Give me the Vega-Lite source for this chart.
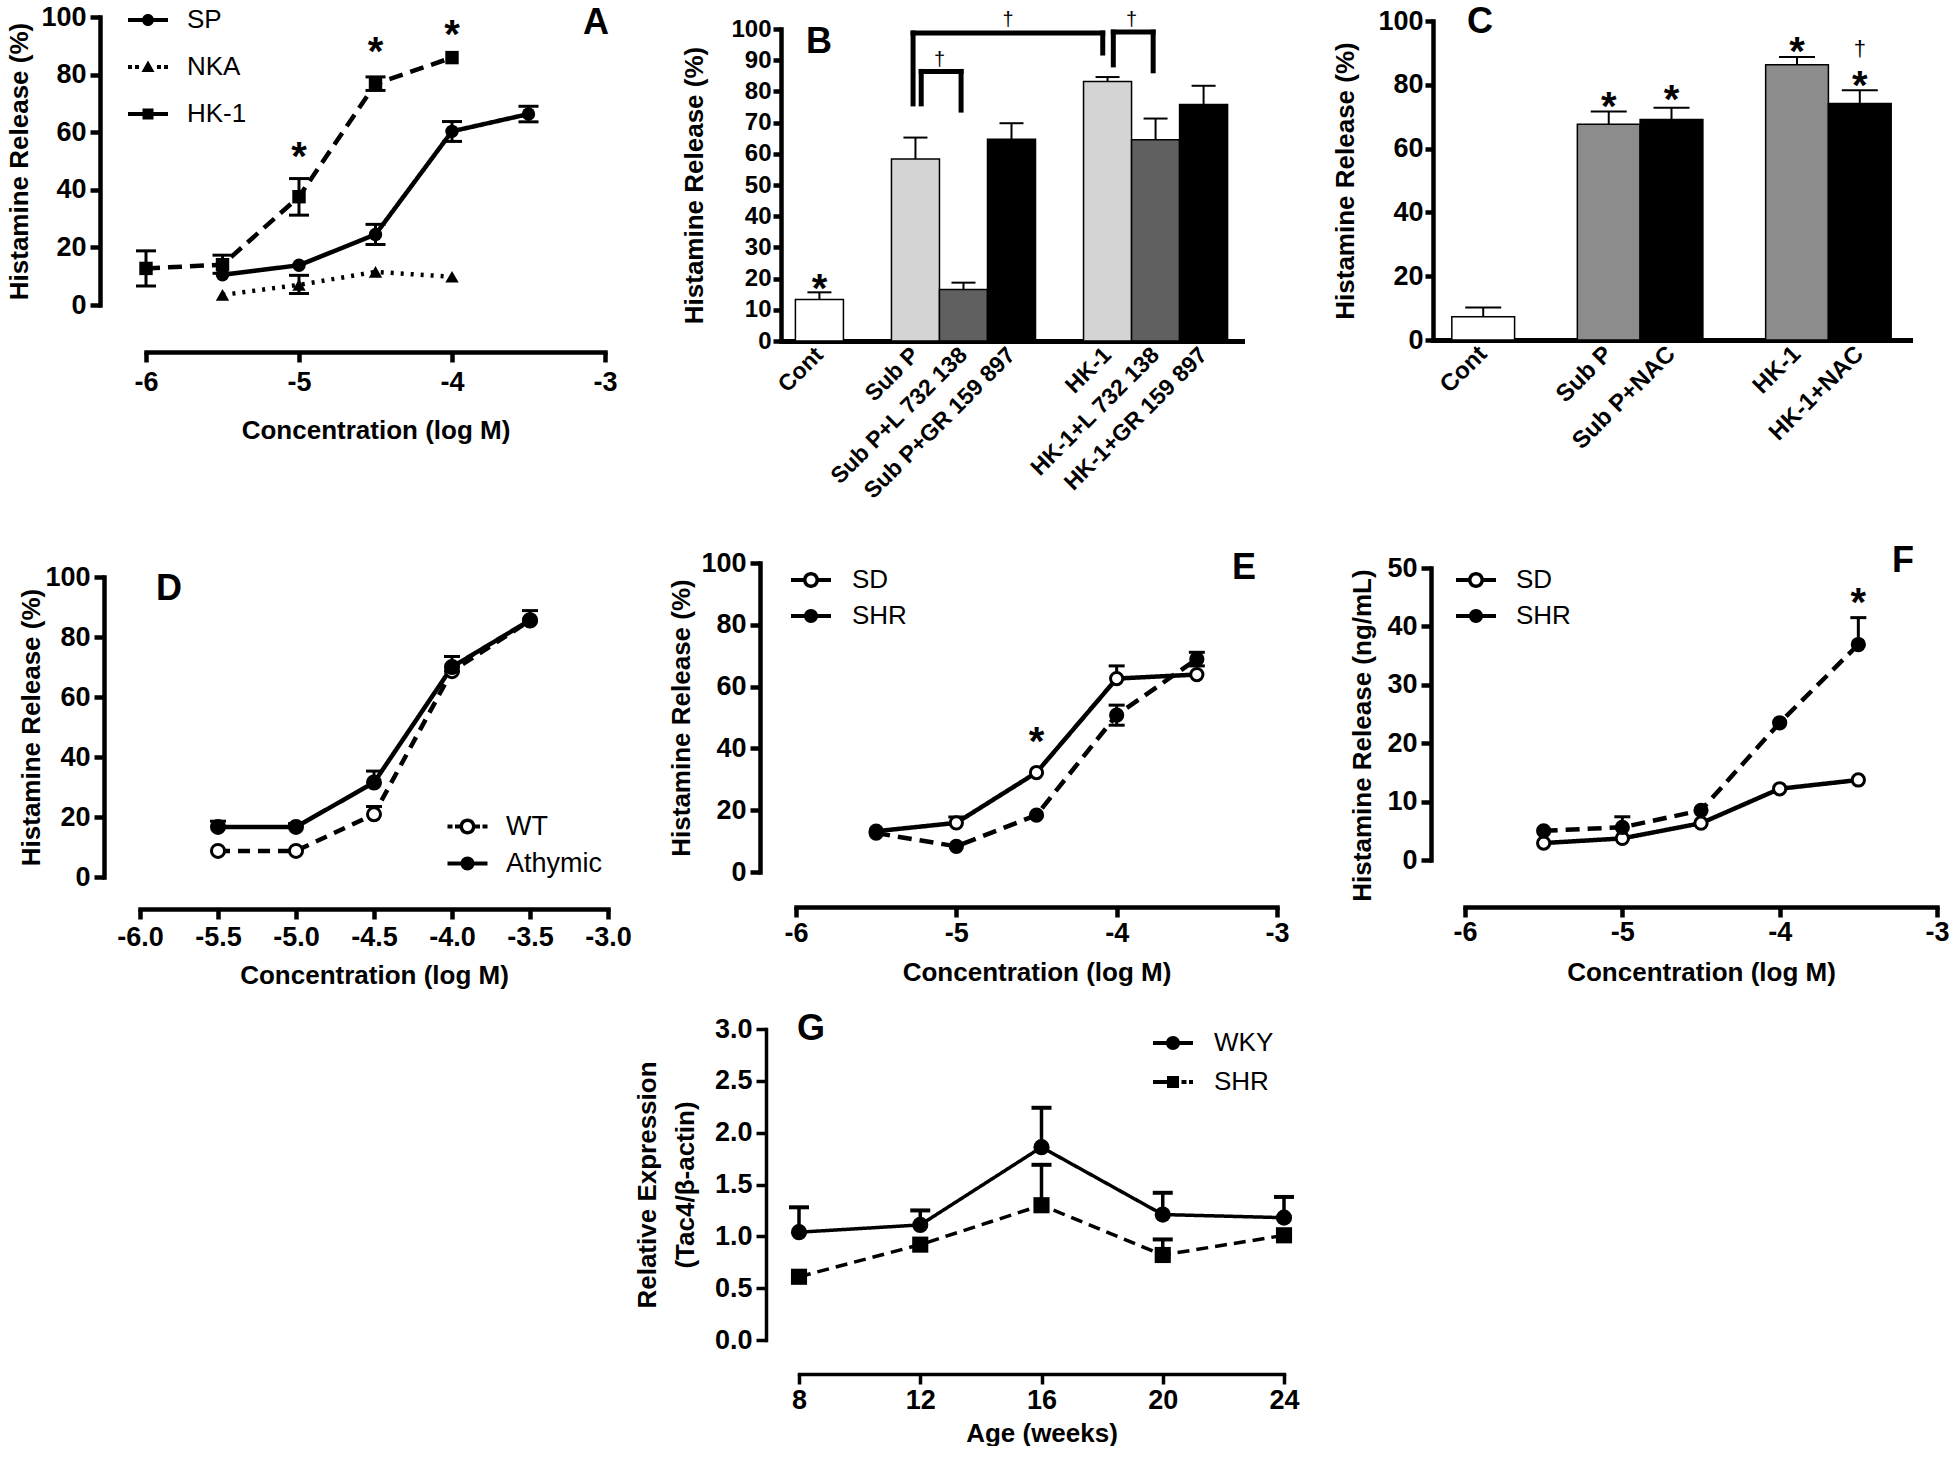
{
 "$schema": "https://vega.github.io/schema/vega-lite/v6.json",
 "background": "white",
 "padding": {"left": -31, "top": 3, "right": 0, "bottom": 0},
 "config": {
  "font": "Liberation Sans",
  "view": {"stroke": null},
  "locale": {"number": {"decimal": ".", "thousands": ",", "grouping": [3], "currency": ["$", ""], "minus": "-"}},
  "axis": {"domainColor": "black", "domainWidth": 4.5, "domainCap": "square", "tickColor": "black", "tickWidth": 4.5, "tickSize": 10, "labelColor": "black", "labelFont": "Liberation Sans", "labelFontSize": 27, "labelFontWeight": "bold", "labelPadding": 4, "labelOverlap": false, "labelFlush": false, "titleColor": "black", "titleFont": "Liberation Sans", "titleFontSize": 26, "titleFontWeight": "bold", "titleBaseline": "middle", "grid": false},
  "legend": {"labelFont": "Liberation Sans", "labelFontSize": 26, "labelColor": "black", "labelFontWeight": "normal"},
  "title": {"font": "Liberation Sans", "fontSize": 36, "fontWeight": "bold", "color": "black"}
 },
 "datasets": {
  "A": [
   {"series": "SP", "x": -5.5, "y": 10.5},
   {"series": "SP", "x": -5, "y": 13.8},
   {"series": "SP", "x": -4.5, "y": 24.5, "lo": 21, "hi": 28},
   {"series": "SP", "x": -4, "y": 60.3, "lo": 56.8, "hi": 63.7},
   {"series": "SP", "x": -3.5, "y": 66.3, "lo": 63.6, "hi": 69},
   {"series": "NKA", "x": -5.5, "y": 3.5},
   {"series": "NKA", "x": -5, "y": 7, "lo": 4, "hi": 10.3},
   {"series": "NKA", "x": -4.5, "y": 11.5},
   {"series": "NKA", "x": -4, "y": 9.8},
   {"series": "HK-1", "x": -6, "y": 12.7, "lo": 6.6, "hi": 18.8},
   {"series": "HK-1", "x": -5.5, "y": 14, "lo": 11, "hi": 17.3},
   {"series": "HK-1", "x": -5, "y": 37.6, "lo": 31.2, "hi": 43.9},
   {"series": "HK-1", "x": -4.5, "y": 76.8, "lo": 74.5, "hi": 79.2},
   {"series": "HK-1", "x": -4, "y": 85.9}
  ],
  "A_stars": [{"x": -5, "y": 55}, {"x": -4.5, "y": 91.3}, {"x": -4, "y": 97.1}],
  "B": [
   {"cat": "Cont", "type": "Control", "v": 13.3, "hi": 15.6},
   {"cat": "Sub P", "type": "Agonist", "v": 58.3, "hi": 65.2},
   {"cat": "Sub P+L 732 138", "type": "L", "v": 16.5, "hi": 18.7},
   {"cat": "Sub P+GR 159 897", "type": "GR", "v": 64.7, "hi": 69.8},
   {"cat": "HK-1", "type": "Agonist", "v": 83.2, "hi": 84.6},
   {"cat": "HK-1+L 732 138", "type": "L", "v": 64.5, "hi": 71.3},
   {"cat": "HK-1+GR 159 897", "type": "GR", "v": 75.8, "hi": 81.8}
  ],
  "B_stars": [{"cat": "Cont", "y": 20}],
  "B_outer": [{"x1": "Sub P", "x2": "HK-1", "mid": "Sub P+GR 159 897", "top": 98.7, "b1": 76, "b2": 92.3, "dag": 102.8}],
  "B_inner": [
   {"x1": "Sub P", "x2": "Sub P+L 732 138", "top": 86.4, "b1": 76, "b2": 74, "dag": 90.1},
   {"x1": "HK-1", "x2": "HK-1+L 732 138", "top": 99, "b1": 88.5, "b2": 86.6, "dag": 103}
  ],
  "C": [
   {"cat": "Cont", "type": "Control", "v": 7.3, "hi": 10.2},
   {"cat": "Sub P", "type": "Agonist", "v": 67.6, "hi": 71.6},
   {"cat": "Sub P+NAC", "type": "NAC", "v": 69.1, "hi": 72.8},
   {"cat": "HK-1", "type": "Agonist", "v": 86.3, "hi": 88.7},
   {"cat": "HK-1+NAC", "type": "NAC", "v": 74.1, "hi": 78.3}
  ],
  "C_stars": [{"cat": "Sub P", "y": 76.2}, {"cat": "Sub P+NAC", "y": 78.5}, {"cat": "HK-1", "y": 93.4}, {"cat": "HK-1+NAC", "y": 82.7}],
  "C_dag": [{"cat": "HK-1+NAC", "y": 91.3}],
  "D": [
   {"series": "WT", "x": -5.5, "y": 8.7}, {"series": "WT", "x": -5, "y": 8.7}, {"series": "WT", "x": -4.5, "y": 20.9, "hi": 23.5}, {"series": "WT", "x": -4, "y": 68.6}, {"series": "WT", "x": -3.5, "y": 85.5},
   {"series": "Athymic", "x": -5.5, "y": 16.7, "hi": 18.6}, {"series": "Athymic", "x": -5, "y": 16.7, "hi": 17.8}, {"series": "Athymic", "x": -4.5, "y": 31.5, "hi": 35.3}, {"series": "Athymic", "x": -4, "y": 70, "hi": 73.5}, {"series": "Athymic", "x": -3.5, "y": 85.6, "hi": 88.8}
  ],
  "E": [
   {"series": "SD", "x": -5.5, "y": 13.2}, {"series": "SD", "x": -5, "y": 15.9, "hi": 17.8}, {"series": "SD", "x": -4.5, "y": 32.2}, {"series": "SD", "x": -4, "y": 62.6, "hi": 66.7}, {"series": "SD", "x": -3.5, "y": 63.9},
   {"series": "SHR", "x": -5.5, "y": 12.6}, {"series": "SHR", "x": -5, "y": 8.3}, {"series": "SHR", "x": -4.5, "y": 18.4}, {"series": "SHR", "x": -4, "y": 50.8, "lo": 47.5, "hi": 54}, {"series": "SHR", "x": -3.5, "y": 68.9, "lo": 66.7, "hi": 71.1}
  ],
  "E_stars": [{"x": -4.5, "y": 45.4}],
  "F": [
   {"series": "SD", "x": -5.5, "y": 2.9}, {"series": "SD", "x": -5, "y": 3.7}, {"series": "SD", "x": -4.5, "y": 6.3}, {"series": "SD", "x": -4, "y": 12.2}, {"series": "SD", "x": -3.5, "y": 13.7},
   {"series": "SHR", "x": -5.5, "y": 5}, {"series": "SHR", "x": -5, "y": 5.6, "hi": 7.4}, {"series": "SHR", "x": -4.5, "y": 8.5}, {"series": "SHR", "x": -4, "y": 23.5}, {"series": "SHR", "x": -3.5, "y": 36.9, "hi": 41.5}
  ],
  "F_stars": [{"x": -3.5, "y": 45.7}],
  "G": [
   {"series": "WKY", "x": 8, "y": 1.04, "hi": 1.28}, {"series": "WKY", "x": 12, "y": 1.11, "hi": 1.25}, {"series": "WKY", "x": 16, "y": 1.86, "hi": 2.24}, {"series": "WKY", "x": 20, "y": 1.21, "hi": 1.42}, {"series": "WKY", "x": 24, "y": 1.18, "hi": 1.38},
   {"series": "SHR", "x": 8, "y": 0.61}, {"series": "SHR", "x": 12, "y": 0.92}, {"series": "SHR", "x": 16, "y": 1.3, "hi": 1.69}, {"series": "SHR", "x": 20, "y": 0.82, "hi": 0.97}, {"series": "SHR", "x": 24, "y": 1.01}
  ],
  "blank": [{"k": 0}]
 },
 "columns": 4,
 "spacing": {"row": 152, "column": 176},
 "align": "each",
 "bounds": "flush",
 "resolve": {
  "scale": {"x": "independent", "y": "independent", "shape": "independent", "fill": "independent", "strokeDash": "independent"},
  "axis": {"x": "independent", "y": "independent"},
  "legend": {"shape": "independent"}
 },
 "concat": [
  {"width": 1, "height": 394, "data": {"name": "blank"}, "mark": {"type": "text", "text": ""}},
  {
   "width": 459, "height": 284,
   "title": {"text": "A", "anchor": "end", "frame": "group", "offset": -67, "dx": 4, "baseline": "alphabetic"},
   "data": {"name": "A"},
   "layer": [
    {"mark": {"type": "line", "strokeWidth": 4.5, "color": "black"},
     "encoding": {
      "x": {"field": "x", "type": "quantitative", "scale": {"domain": [-6, -3], "nice": false, "zero": false}, "axis": {"values": [-6, -5, -4, -3], "format": "d", "labelOverlap": false, "offset": 47, "title": "Concentration (log M)", "titleY": 78, "labelPadding": 7}},
      "y": {"field": "y", "type": "quantitative", "scale": {"domain": [0, 100], "nice": false, "range": [284, -4]}, "axis": {"values": [0, 20, 40, 60, 80, 100], "format": "d", "labelOverlap": false, "offset": 46, "title": "Histamine Release (%)", "titleX": -81}},
      "strokeDash": {"field": "series", "type": "nominal", "scale": {"domain": ["SP", "NKA", "HK-1"], "range": [[1, 0], [3, 7], [14, 8]]}, "legend": null}}},
    {"transform": [{"filter": "isValid(datum.hi)"}], "mark": {"type": "rule", "strokeWidth": 3, "color": "black"},
     "encoding": {"x": {"field": "x", "type": "quantitative"}, "y": {"field": "y", "type": "quantitative"}, "y2": {"field": "hi"}}},
    {"transform": [{"filter": "isValid(datum.hi)"}], "mark": {"type": "tick", "orient": "horizontal", "size": 20, "thickness": 3, "color": "black", "opacity": 1},
     "encoding": {"x": {"field": "x", "type": "quantitative"}, "y": {"field": "hi", "type": "quantitative"}}},
    {"transform": [{"filter": "isValid(datum.lo)"}], "mark": {"type": "rule", "strokeWidth": 3, "color": "black"},
     "encoding": {"x": {"field": "x", "type": "quantitative"}, "y": {"field": "lo", "type": "quantitative"}, "y2": {"field": "y"}}},
    {"transform": [{"filter": "isValid(datum.lo)"}], "mark": {"type": "tick", "orient": "horizontal", "size": 20, "thickness": 3, "color": "black", "opacity": 1},
     "encoding": {"x": {"field": "x", "type": "quantitative"}, "y": {"field": "lo", "type": "quantitative"}}},
    {"mark": {"type": "point", "filled": true, "size": 180, "color": "black", "opacity": 1},
     "encoding": {"x": {"field": "x", "type": "quantitative"}, "y": {"field": "y", "type": "quantitative"},
      "shape": {"field": "series", "type": "nominal", "scale": {"domain": ["SP", "NKA", "HK-1"], "range": ["circle", "triangle-up", "square"]}, "legend": null}}},
    {"data": {"name": "A_stars"}, "mark": {"type": "text", "text": "*", "fontSize": 40, "fontWeight": "bold", "baseline": "alphabetic", "dy": 23, "color": "black"},
     "encoding": {"x": {"field": "x", "type": "quantitative"}, "y": {"field": "y", "type": "quantitative"}}},
    {"transform": [{"filter": "false"}], "mark": {"type": "point", "filled": true, "color": "black", "strokeWidth": 0, "opacity": 1},
     "encoding": {"x": {"field": "x", "type": "quantitative"}, "y": {"field": "y", "type": "quantitative"},
      "shape": {"field": "series", "type": "nominal", "scale": {"domain": ["SP", "NKA", "HK-1"], "range": [
        "M-2,-0.2H2V0.2H-2Z M0.6,0A0.6,0.6,0,1,1,-0.6,0A0.6,0.6,0,1,1,0.6,0Z",
        "M-2,-0.2H-1.6V0.2H-2Z M-1.3,-0.2H-0.9V0.2H-1.3Z M0.9,-0.2H1.3V0.2H0.9Z M1.6,-0.2H2V0.2H1.6Z M0,-0.65L0.65,0.5H-0.65Z",
        "M-2,-0.2H2V0.2H-2Z M-0.55,-0.55H0.55V0.55H-0.55Z"]},
       "legend": {"title": null, "orient": "none", "legendX": -11, "legendY": -14, "symbolSize": 400, "symbolStrokeWidth": 0, "symbolFillColor": "black", "symbolOpacity": 1, "rowPadding": 21, "labelOffset": 26, "padding": 0}}}}
   ],
   "resolve": {"scale": {"shape": "independent"}}
  },
  {
   "width": 452, "height": 320,
   "title": {"text": "B", "anchor": "start", "frame": "group", "offset": -79, "dx": 16, "baseline": "alphabetic"},
   "layer": [
    {"data": {"name": "B"}, "mark": {"type": "bar", "stroke": "black", "strokeWidth": 1.5, "opacity": 1},
     "encoding": {
      "x": {"field": "cat", "type": "nominal", "scale": {"domain": ["Cont", " ", "Sub P", "Sub P+L 732 138", "Sub P+GR 159 897", "  ", "HK-1", "HK-1+L 732 138", "HK-1+GR 159 897"], "paddingInner": 0, "paddingOuter": 0.3, "range": [-9, 452]},
       "axis": {"title": null, "labelAngle": -45, "labelAlign": "right", "labelBaseline": "middle", "ticks": false, "labelPadding": 10, "labelFontSize": 23, "labelLimit": 400, "labelOverlap": false, "domainWidth": 5}},
      "y": {"field": "v", "type": "quantitative", "scale": {"domain": [0, 100], "nice": false, "range": [320, 8]},
       "axis": {"values": [0, 10, 20, 30, 40, 50, 60, 70, 80, 90, 100], "tickCount": 11, "format": "d", "labelOverlap": false, "labelFontSize": 24, "offset": 9, "title": "Histamine Release (%)", "titleX": -87, "tickSize": 8, "labelPadding": 2}},
      "fill": {"field": "type", "type": "nominal", "scale": {"domain": ["Control", "Agonist", "L", "GR"], "range": ["white", "#d4d4d4", "#606060", "black"]}, "legend": null}}},
    {"data": {"name": "B"}, "mark": {"type": "rule", "strokeWidth": 2, "color": "black"},
     "encoding": {"x": {"field": "cat", "type": "nominal"}, "y": {"field": "v", "type": "quantitative"}, "y2": {"field": "hi"}}},
    {"data": {"name": "B"}, "mark": {"type": "tick", "orient": "horizontal", "size": 24, "thickness": 2, "color": "black", "opacity": 1},
     "encoding": {"x": {"field": "cat", "type": "nominal"}, "y": {"field": "hi", "type": "quantitative"}}},
    {"data": {"name": "B_stars"}, "mark": {"type": "text", "text": "*", "fontSize": 40, "fontWeight": "bold", "baseline": "alphabetic", "dy": 23, "color": "black"},
     "encoding": {"x": {"field": "cat", "type": "nominal"}, "y": {"field": "y", "type": "quantitative"}}},
    {"data": {"name": "B_outer"}, "mark": {"type": "rule", "strokeWidth": 5, "strokeCap": "square", "color": "black"},
     "encoding": {"x": {"field": "x1", "type": "nominal", "bandPosition": 0.45}, "y": {"field": "b1", "type": "quantitative"}, "y2": {"field": "top"}}},
    {"data": {"name": "B_outer"}, "mark": {"type": "rule", "strokeWidth": 5, "strokeCap": "square", "color": "black"},
     "encoding": {"x": {"field": "x1", "type": "nominal", "bandPosition": 0.45}, "x2": {"field": "x2", "bandPosition": 0.4}, "y": {"field": "top", "type": "quantitative"}}},
    {"data": {"name": "B_outer"}, "mark": {"type": "rule", "strokeWidth": 5, "strokeCap": "square", "color": "black"},
     "encoding": {"x": {"field": "x2", "type": "nominal", "bandPosition": 0.4}, "y": {"field": "b2", "type": "quantitative"}, "y2": {"field": "top"}}},
    {"data": {"name": "B_outer"}, "mark": {"type": "text", "text": "†", "fontSize": 20, "baseline": "middle", "color": "black"},
     "encoding": {"x": {"field": "mid", "type": "nominal", "bandPosition": 0.43}, "y": {"field": "dag", "type": "quantitative"}}},
    {"data": {"name": "B_inner"}, "mark": {"type": "rule", "strokeWidth": 5, "strokeCap": "square", "color": "black"},
     "encoding": {"x": {"field": "x1", "type": "nominal", "bandPosition": 0.62}, "y": {"field": "b1", "type": "quantitative"}, "y2": {"field": "top"}}},
    {"data": {"name": "B_inner"}, "mark": {"type": "rule", "strokeWidth": 5, "strokeCap": "square", "color": "black"},
     "encoding": {"x": {"field": "x1", "type": "nominal", "bandPosition": 0.62}, "x2": {"field": "x2", "bandPosition": 0.45}, "y": {"field": "top", "type": "quantitative"}}},
    {"data": {"name": "B_inner"}, "mark": {"type": "rule", "strokeWidth": 5, "strokeCap": "square", "color": "black"},
     "encoding": {"x": {"field": "x2", "type": "nominal", "bandPosition": 0.45}, "y": {"field": "b2", "type": "quantitative"}, "y2": {"field": "top"}}},
    {"data": {"name": "B_inner"}, "mark": {"type": "text", "text": "†", "fontSize": 20, "baseline": "middle", "color": "black"},
     "encoding": {"x": {"field": "x1", "type": "nominal", "bandPosition": 1}, "y": {"field": "dag", "type": "quantitative"}}}
   ]
  },
  {
   "width": 461, "height": 319,
   "title": {"text": "C", "anchor": "start", "frame": "group", "offset": -62, "dx": 18, "baseline": "alphabetic"},
   "layer": [
    {"data": {"name": "C"}, "mark": {"type": "bar", "stroke": "black", "strokeWidth": 1.5, "opacity": 1},
     "encoding": {
      "x": {"field": "cat", "type": "nominal", "scale": {"domain": ["Cont", " ", "Sub P", "Sub P+NAC", "  ", "HK-1", "HK-1+NAC"], "paddingInner": 0, "paddingOuter": 0.3, "range": [-16, 461]},
       "axis": {"title": null, "labelAngle": -45, "labelAlign": "right", "labelBaseline": "middle", "ticks": false, "labelPadding": 10, "labelFontSize": 24, "labelLimit": 400, "labelOverlap": false, "domainWidth": 5}},
      "y": {"field": "v", "type": "quantitative", "scale": {"domain": [0, 100], "nice": false},
       "axis": {"values": [0, 20, 40, 60, 80, 100], "format": "d", "labelOverlap": false, "offset": 16, "title": "Histamine Release (%)", "titleX": -88, "tickSize": 8, "labelPadding": 2}},
      "fill": {"field": "type", "type": "nominal", "scale": {"domain": ["Control", "Agonist", "NAC"], "range": ["white", "#8c8c8c", "black"]}, "legend": null}}},
    {"data": {"name": "C"}, "mark": {"type": "rule", "strokeWidth": 2, "color": "black"},
     "encoding": {"x": {"field": "cat", "type": "nominal"}, "y": {"field": "v", "type": "quantitative"}, "y2": {"field": "hi"}}},
    {"data": {"name": "C"}, "mark": {"type": "tick", "orient": "horizontal", "size": 36, "thickness": 2, "color": "black", "opacity": 1},
     "encoding": {"x": {"field": "cat", "type": "nominal"}, "y": {"field": "hi", "type": "quantitative"}}},
    {"data": {"name": "C_stars"}, "mark": {"type": "text", "text": "*", "fontSize": 40, "fontWeight": "bold", "baseline": "alphabetic", "dy": 23, "color": "black"},
     "encoding": {"x": {"field": "cat", "type": "nominal"}, "y": {"field": "y", "type": "quantitative"}}},
    {"data": {"name": "C_dag"}, "mark": {"type": "text", "text": "†", "fontSize": 22, "baseline": "middle", "color": "black"},
     "encoding": {"x": {"field": "cat", "type": "nominal"}, "y": {"field": "y", "type": "quantitative"}}}
   ]
  },
  {"width": 1, "height": 306, "data": {"name": "blank"}, "mark": {"type": "text", "text": ""}},
  {
   "width": 468, "height": 310,
   "title": {"text": "D", "anchor": "start", "frame": "group", "offset": -73, "dx": 10, "baseline": "alphabetic"},
   "data": {"name": "D"},
   "layer": [
    {"mark": {"type": "line", "strokeWidth": 4.5, "color": "black"},
     "encoding": {
      "x": {"field": "x", "type": "quantitative", "scale": {"domain": [-6, -3], "nice": false, "zero": false, "range": [-6, 462]}, "axis": {"values": [-6, -5.5, -5, -4.5, -4, -3.5, -3], "format": ".1f", "labelOverlap": false, "offset": 32, "title": "Concentration (log M)", "titleY": 66, "labelPadding": 5}},
      "y": {"field": "y", "type": "quantitative", "scale": {"domain": [0, 100], "nice": false, "range": [310, 10]}, "axis": {"values": [0, 20, 40, 60, 80, 100], "format": "d", "labelOverlap": false, "offset": 42, "title": "Histamine Release (%)", "titleX": -73}},
      "strokeDash": {"field": "series", "type": "nominal", "scale": {"domain": ["WT", "Athymic"], "range": [[12, 8], [1, 0]]}, "legend": null}}},
    {"transform": [{"filter": "isValid(datum.hi)"}], "mark": {"type": "rule", "strokeWidth": 3, "color": "black"},
     "encoding": {"x": {"field": "x", "type": "quantitative"}, "y": {"field": "y", "type": "quantitative"}, "y2": {"field": "hi"}}},
    {"transform": [{"filter": "isValid(datum.hi)"}], "mark": {"type": "tick", "orient": "horizontal", "size": 16, "thickness": 3, "color": "black", "opacity": 1},
     "encoding": {"x": {"field": "x", "type": "quantitative"}, "y": {"field": "hi", "type": "quantitative"}}},
    {"mark": {"type": "point", "filled": true, "size": 170, "stroke": "black", "strokeWidth": 3, "opacity": 1},
     "encoding": {"x": {"field": "x", "type": "quantitative"}, "y": {"field": "y", "type": "quantitative"},
      "shape": {"value": "circle"},
      "fill": {"field": "series", "type": "nominal", "scale": {"domain": ["WT", "Athymic"], "range": ["white", "black"]}, "legend": null}}},
    {"transform": [{"filter": "false"}], "mark": {"type": "point", "filled": true, "color": "black", "strokeWidth": 0, "opacity": 1},
     "encoding": {"x": {"field": "x", "type": "quantitative"}, "y": {"field": "y", "type": "quantitative"},
      "shape": {"field": "series", "type": "nominal", "scale": {"domain": ["WT", "Athymic"], "range": [
        "M-2,-0.2H-1.5V0.2H-2Z M-1.25,-0.2H-0.75V0.2H-1.25Z M0.75,-0.2H1.25V0.2H0.75Z M1.5,-0.2H2V0.2H1.5Z M0.8,0A0.8,0.8,0,1,1,-0.8,0A0.8,0.8,0,1,1,0.8,0Z M0.45,0A0.45,0.45,0,1,0,-0.45,0A0.45,0.45,0,1,0,0.45,0Z",
        "M-2,-0.2H2V0.2H-2Z M0.7,0A0.7,0.7,0,1,1,-0.7,0A0.7,0.7,0,1,1,0.7,0Z"]},
       "legend": {"title": null, "orient": "none", "legendX": 308, "legendY": 246, "symbolSize": 400, "symbolStrokeWidth": 0, "symbolFillColor": "black", "symbolOpacity": 1, "rowPadding": 9, "labelOffset": 25, "padding": 0, "labelFontSize": 27}}}}
   ],
   "resolve": {"scale": {"shape": "independent"}}
  },
  {
   "width": 483, "height": 305,
   "title": {"text": "E", "anchor": "end", "frame": "group", "offset": -66, "dx": -17, "baseline": "alphabetic"},
   "data": {"name": "E"},
   "layer": [
    {"mark": {"type": "line", "strokeWidth": 4.5, "color": "black"},
     "encoding": {
      "x": {"field": "x", "type": "quantitative", "scale": {"domain": [-6, -3], "nice": false, "zero": false, "range": [6, 487]}, "axis": {"values": [-6, -5, -4, -3], "format": "d", "labelOverlap": false, "offset": 35, "title": "Concentration (log M)", "titleY": 65, "labelPadding": 3}},
      "y": {"field": "y", "type": "quantitative", "scale": {"domain": [0, 100], "nice": false, "range": [305, -4]}, "axis": {"values": [0, 20, 40, 60, 80, 100], "format": "d", "labelOverlap": false, "offset": 30, "title": "Histamine Release (%)", "titleX": -79}},
      "strokeDash": {"field": "series", "type": "nominal", "scale": {"domain": ["SD", "SHR"], "range": [[1, 0], [14, 8]]}, "legend": null}}},
    {"transform": [{"filter": "isValid(datum.hi)"}], "mark": {"type": "rule", "strokeWidth": 3, "color": "black"},
     "encoding": {"x": {"field": "x", "type": "quantitative"}, "y": {"field": "y", "type": "quantitative"}, "y2": {"field": "hi"}}},
    {"transform": [{"filter": "isValid(datum.hi)"}], "mark": {"type": "tick", "orient": "horizontal", "size": 16, "thickness": 3, "color": "black", "opacity": 1},
     "encoding": {"x": {"field": "x", "type": "quantitative"}, "y": {"field": "hi", "type": "quantitative"}}},
    {"transform": [{"filter": "isValid(datum.lo)"}], "mark": {"type": "rule", "strokeWidth": 3, "color": "black"},
     "encoding": {"x": {"field": "x", "type": "quantitative"}, "y": {"field": "lo", "type": "quantitative"}, "y2": {"field": "y"}}},
    {"transform": [{"filter": "isValid(datum.lo)"}], "mark": {"type": "tick", "orient": "horizontal", "size": 16, "thickness": 3, "color": "black", "opacity": 1},
     "encoding": {"x": {"field": "x", "type": "quantitative"}, "y": {"field": "lo", "type": "quantitative"}}},
    {"mark": {"type": "point", "filled": true, "size": 150, "stroke": "black", "strokeWidth": 3, "opacity": 1},
     "encoding": {"x": {"field": "x", "type": "quantitative"}, "y": {"field": "y", "type": "quantitative"},
      "shape": {"value": "circle"},
      "fill": {"field": "series", "type": "nominal", "scale": {"domain": ["SD", "SHR"], "range": ["white", "black"]}, "legend": null}}},
    {"data": {"name": "E_stars"}, "mark": {"type": "text", "text": "*", "fontSize": 40, "fontWeight": "bold", "baseline": "alphabetic", "dy": 23, "color": "black"},
     "encoding": {"x": {"field": "x", "type": "quantitative"}, "y": {"field": "y", "type": "quantitative"}}},
    {"transform": [{"filter": "false"}], "mark": {"type": "point", "filled": true, "color": "black", "strokeWidth": 0, "opacity": 1},
     "encoding": {"x": {"field": "x", "type": "quantitative"}, "y": {"field": "y", "type": "quantitative"},
      "shape": {"field": "series", "type": "nominal", "scale": {"domain": ["SD", "SHR"], "range": [
        "M-2,-0.2H-0.75V0.2H-2Z M0.75,-0.2H2V0.2H0.75Z M0.8,0A0.8,0.8,0,1,1,-0.8,0A0.8,0.8,0,1,1,0.8,0Z M0.45,0A0.45,0.45,0,1,0,-0.45,0A0.45,0.45,0,1,0,0.45,0Z",
        "M-2,-0.2H2V0.2H-2Z M0.7,0A0.7,0.7,0,1,1,-0.7,0A0.7,0.7,0,1,1,0.7,0Z"]},
       "legend": {"title": null, "orient": "none", "legendX": 8, "legendY": 0, "symbolSize": 400, "symbolStrokeWidth": 0, "symbolFillColor": "black", "symbolOpacity": 1, "rowPadding": 10, "labelOffset": 28, "padding": 0}}}}
   ],
   "resolve": {"scale": {"shape": "independent"}}
  },
  {
   "width": 488, "height": 293,
   "title": {"text": "F", "anchor": "end", "frame": "group", "offset": -54, "dx": -23, "baseline": "alphabetic"},
   "data": {"name": "F"},
   "layer": [
    {"mark": {"type": "line", "strokeWidth": 4.5, "color": "black"},
     "encoding": {
      "x": {"field": "x", "type": "quantitative", "scale": {"domain": [-6, -3], "nice": false, "zero": false, "range": [16, 488]}, "axis": {"values": [-6, -5, -4, -3], "format": "d", "labelOverlap": false, "offset": 47, "title": "Concentration (log M)", "titleY": 65, "labelPadding": 2}},
      "y": {"field": "y", "type": "quantitative", "scale": {"domain": [0, 50], "nice": false, "range": [293, 1]}, "axis": {"values": [0, 10, 20, 30, 40, 50], "format": "d", "labelOverlap": false, "offset": 18, "title": "Histamine Release (ng/mL)", "titleX": -69, "titleY": 168}},
      "strokeDash": {"field": "series", "type": "nominal", "scale": {"domain": ["SD", "SHR"], "range": [[1, 0], [14, 8]]}, "legend": null}}},
    {"transform": [{"filter": "isValid(datum.hi)"}], "mark": {"type": "rule", "strokeWidth": 3, "color": "black"},
     "encoding": {"x": {"field": "x", "type": "quantitative"}, "y": {"field": "y", "type": "quantitative"}, "y2": {"field": "hi"}}},
    {"transform": [{"filter": "isValid(datum.hi)"}], "mark": {"type": "tick", "orient": "horizontal", "size": 16, "thickness": 3, "color": "black", "opacity": 1},
     "encoding": {"x": {"field": "x", "type": "quantitative"}, "y": {"field": "hi", "type": "quantitative"}}},
    {"mark": {"type": "point", "filled": true, "size": 150, "stroke": "black", "strokeWidth": 3, "opacity": 1},
     "encoding": {"x": {"field": "x", "type": "quantitative"}, "y": {"field": "y", "type": "quantitative"},
      "shape": {"value": "circle"},
      "fill": {"field": "series", "type": "nominal", "scale": {"domain": ["SD", "SHR"], "range": ["white", "black"]}, "legend": null}}},
    {"data": {"name": "F_stars"}, "mark": {"type": "text", "text": "*", "fontSize": 40, "fontWeight": "bold", "baseline": "alphabetic", "dy": 23, "color": "black"},
     "encoding": {"x": {"field": "x", "type": "quantitative"}, "y": {"field": "y", "type": "quantitative"}}},
    {"transform": [{"filter": "false"}], "mark": {"type": "point", "filled": true, "color": "black", "strokeWidth": 0, "opacity": 1},
     "encoding": {"x": {"field": "x", "type": "quantitative"}, "y": {"field": "y", "type": "quantitative"},
      "shape": {"field": "series", "type": "nominal", "scale": {"domain": ["SD", "SHR"], "range": [
        "M-2,-0.2H-0.75V0.2H-2Z M0.75,-0.2H2V0.2H0.75Z M0.8,0A0.8,0.8,0,1,1,-0.8,0A0.8,0.8,0,1,1,0.8,0Z M0.45,0A0.45,0.45,0,1,0,-0.45,0A0.45,0.45,0,1,0,0.45,0Z",
        "M-2,-0.2H2V0.2H-2Z M0.7,0A0.7,0.7,0,1,1,-0.7,0A0.7,0.7,0,1,1,0.7,0Z"]},
       "legend": {"title": null, "orient": "none", "legendX": 14, "legendY": 0, "symbolSize": 400, "symbolStrokeWidth": 0, "symbolFillColor": "black", "symbolOpacity": 1, "rowPadding": 10, "labelOffset": 27, "padding": 0}}}}
   ],
   "resolve": {"scale": {"shape": "independent"}}
  },
  {"width": 1, "height": 1, "data": {"name": "blank"}, "mark": {"type": "text", "text": ""}},
  {"width": 1, "height": 1, "data": {"name": "blank"}, "mark": {"type": "text", "text": ""}},
  {
   "width": 483, "height": 311,
   "title": {"text": "G", "anchor": "start", "frame": "group", "offset": -61, "dx": 7, "baseline": "alphabetic"},
   "data": {"name": "G"},
   "layer": [
    {"mark": {"type": "line", "strokeWidth": 3.5, "color": "black"},
     "encoding": {
      "x": {"field": "x", "type": "quantitative", "scale": {"domain": [8, 24], "nice": false, "zero": false, "range": [9, 494]}, "axis": {"values": [8, 12, 16, 20, 24], "format": "d", "labelOverlap": false, "offset": 34, "title": "Age (weeks)", "titleY": 59, "labelPadding": 3, "domainWidth": 3.5, "tickWidth": 3.5}},
      "y": {"field": "y", "type": "quantitative", "scale": {"domain": [0, 3], "nice": false}, "axis": {"values": [0, 0.5, 1, 1.5, 2, 2.5, 3], "format": ".1f", "labelOverlap": false, "offset": 24, "title": ["Relative Expression", "(Tac4/β-actin)"], "titleX": -119, "titleLineHeight": 38, "domainWidth": 3.5, "tickWidth": 3.5}},
      "strokeDash": {"field": "series", "type": "nominal", "scale": {"domain": ["WKY", "SHR"], "range": [[1, 0], [12, 7]]}, "legend": null}}},
    {"transform": [{"filter": "isValid(datum.hi)"}], "mark": {"type": "rule", "strokeWidth": 3.5, "color": "black"},
     "encoding": {"x": {"field": "x", "type": "quantitative"}, "y": {"field": "y", "type": "quantitative"}, "y2": {"field": "hi"}}},
    {"transform": [{"filter": "isValid(datum.hi)"}], "mark": {"type": "tick", "orient": "horizontal", "size": 20, "thickness": 4, "color": "black", "opacity": 1},
     "encoding": {"x": {"field": "x", "type": "quantitative"}, "y": {"field": "hi", "type": "quantitative"}}},
    {"mark": {"type": "point", "filled": true, "size": 260, "color": "black", "opacity": 1},
     "encoding": {"x": {"field": "x", "type": "quantitative"}, "y": {"field": "y", "type": "quantitative"},
      "shape": {"field": "series", "type": "nominal", "scale": {"domain": ["WKY", "SHR"], "range": ["circle", "square"]}, "legend": null}}},
    {"transform": [{"filter": "false"}], "mark": {"type": "point", "filled": true, "color": "black", "strokeWidth": 0, "opacity": 1},
     "encoding": {"x": {"field": "x", "type": "quantitative"}, "y": {"field": "y", "type": "quantitative"},
      "shape": {"field": "series", "type": "nominal", "scale": {"domain": ["WKY", "SHR"], "range": [
        "M-2,-0.2H2V0.2H-2Z M0.7,0A0.7,0.7,0,1,1,-0.7,0A0.7,0.7,0,1,1,0.7,0Z",
        "M-2,-0.2H-0.5V0.2H-2Z M0.85,-0.2H1.35V0.2H0.85Z M1.6,-0.2H2V0.2H1.6Z M-0.6,-0.6H0.6V0.6H-0.6Z"]},
       "legend": {"title": null, "orient": "none", "legendX": 370, "legendY": 1, "symbolSize": 400, "symbolStrokeWidth": 0, "symbolFillColor": "black", "symbolOpacity": 1, "rowPadding": 13, "labelOffset": 28, "padding": 0}}}}
   ],
   "resolve": {"scale": {"shape": "independent"}}
  }
 ]
}
